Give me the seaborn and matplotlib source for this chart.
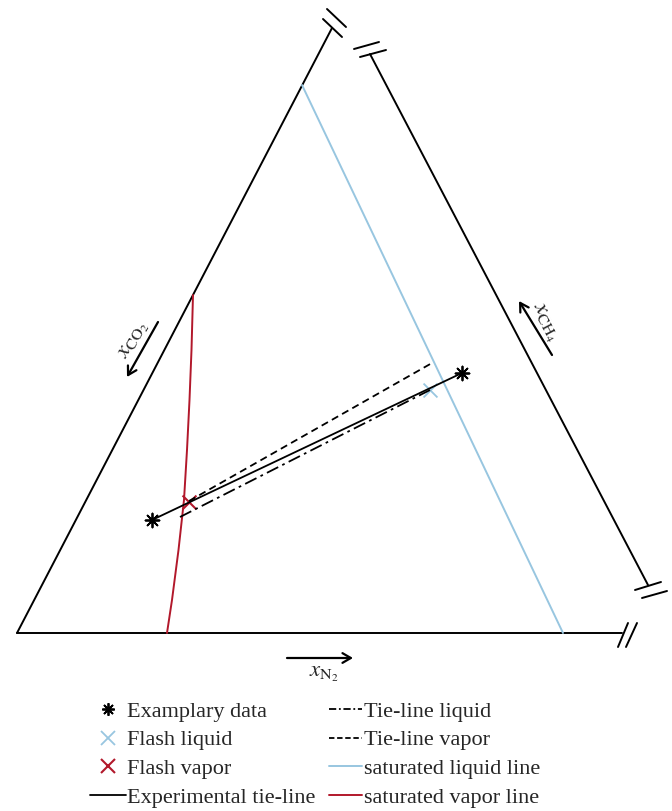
import numpy as np
import pandas as pd
import matplotlib
matplotlib.use("Agg")
import matplotlib.pyplot as plt
from matplotlib.lines import Line2D
import seaborn as sns

# ---- diagram geometry (drawing coordinates, y downward) ----
bottom_edge_x = [17, 622]
bottom_edge_y = [633, 633]
left_edge_x = [17, 332]
left_edge_y = [633, 28]
right_edge_x = [370, 648]
right_edge_y = [54, 585]

# break marks (pairs of short strokes)
break_left_top = [[(323, 19), (342, 37)], [(327, 9), (346, 27)]]
break_right_top = [[(354, 49), (379, 42)], [(360, 57), (386, 50)]]
break_right_bot = [[(635, 590), (661, 582)], [(642, 598), (667, 591)]]
break_bottom = [[(618, 647), (628, 623)], [(626, 647), (637, 623)]]

# ---- data series ----
sat_liquid_x = [302, 563]
sat_liquid_y = [85, 633]
sat_vapor_x = [193, 191.5, 189.5, 187, 184, 178.5, 172, 167]
sat_vapor_y = [295, 350, 400, 450, 500, 550, 600, 633]
exp_tie_x = [152, 462]
exp_tie_y = [520, 373]
tie_liquid_x = [180, 430]
tie_liquid_y = [517, 390]
tie_vapor_x = [189, 432]
tie_vapor_y = [501, 363]
flash_liquid = (430, 390)
flash_vapor = (189, 502)

c_blue = "#98c6e0"
c_red = "#b2182b"

sns.set_style("white")
plt.rcParams["font.family"] = ["Liberation Serif", "DejaVu Serif"]
plt.rcParams["mathtext.fontset"] = "stix"

fig = plt.figure(figsize=(6.72, 8.11), dpi=100)
ax = fig.add_axes([0, 0, 1, 1])
ax.set_xlim(0, 672)
ax.set_ylim(811, 0)
ax.axis("off")

def seg(xs, ys, **kw):
    df = pd.DataFrame({"x": xs, "y": ys})
    sns.lineplot(data=df, x="x", y="y", sort=False, estimator=None, ax=ax, **kw)

# triangle edges
for xs, ys in [(bottom_edge_x, bottom_edge_y), (left_edge_x, left_edge_y), (right_edge_x, right_edge_y)]:
    seg(xs, ys, color="black", lw=1.4)
for br in [break_left_top, break_right_top, break_right_bot, break_bottom]:
    for (p, q) in br:
        seg([p[0], q[0]], [p[1], q[1]], color="black", lw=1.4)

# saturation lines
seg(sat_liquid_x, sat_liquid_y, color=c_blue, lw=1.4)
seg(sat_vapor_x, sat_vapor_y, color=c_red, lw=1.4)

# tie lines
seg(exp_tie_x, exp_tie_y, color="black", lw=1.3)
seg(tie_vapor_x, tie_vapor_y, color="black", lw=1.3, linestyle=(0, (4, 2.5)))
seg(tie_liquid_x, tie_liquid_y, color="black", lw=1.3, linestyle=(0, (7, 2.5, 1.5, 2.5)))

star = (8, 2, 0)
sns.scatterplot(x=exp_tie_x, y=exp_tie_y, marker=star, s=100, color="black", linewidth=1.3, ax=ax)
sns.scatterplot(x=[flash_liquid[0]], y=[flash_liquid[1]], marker="x", s=100, color=c_blue, linewidth=1.3, ax=ax)
sns.scatterplot(x=[flash_vapor[0]], y=[flash_vapor[1]], marker="x", s=100, color=c_red, linewidth=1.5, ax=ax)

# axis arrows and labels
aprops = dict(arrowstyle="->,head_length=0.6,head_width=0.35", lw=1.6, color="black", shrinkA=0, shrinkB=0)
ax.annotate("", xy=(127, 377), xytext=(158, 322), arrowprops=aprops)
ax.annotate("", xy=(519, 301), xytext=(552, 355), arrowprops=aprops)
ax.annotate("", xy=(353, 658), xytext=(287, 658), arrowprops=aprops)
ax.text(134, 340, r"$x_{\mathrm{CO}_2}$", rotation=61, ha="center", va="center", fontsize=16.5)
ax.text(545, 322, r"$x_{\mathrm{CH}_4}$", rotation=-62, ha="center", va="center", fontsize=16.5)
ax.text(324, 673, r"$x_{\mathrm{N}_2}$", ha="center", va="center", fontsize=16.5)

# legend (two columns)
handles1 = [
    Line2D([], [], ls="none", marker=star, color="black", markersize=9, mew=1.3),
    Line2D([], [], ls="none", marker="x", color=c_blue, markersize=10, mew=1.3),
    Line2D([], [], ls="none", marker="x", color=c_red, markersize=10, mew=1.5),
    Line2D([], [], color="black", lw=1.3),
]
labels1 = ["Examplary data", "Flash liquid", "Flash vapor", "Experimental tie-line"]
handles2 = [
    Line2D([], [], color="black", lw=1.3, linestyle=(0, (4, 1.5, 1, 1.5))),
    Line2D([], [], color="black", lw=1.3, linestyle=(0, (3, 1.5))),
    Line2D([], [], color=c_blue, lw=1.4),
    Line2D([], [], color=c_red, lw=1.4),
]
labels2 = ["Tie-line liquid", "Tie-line vapor", "saturated liquid line", "saturated vapor line"]
common = dict(loc="upper left", frameon=False, fontsize=16, handletextpad=0.08,
              labelspacing=0.37, borderpad=0, borderaxespad=0)
leg1 = ax.legend(handles1, labels1, bbox_to_anchor=(90 / 672, 1 - 701 / 811),
                 handlelength=1.6, **common)
ax.add_artist(leg1)
ax.legend(handles2, labels2, bbox_to_anchor=(329 / 672, 1 - 701 / 811),
          handlelength=1.5, **common)

fig.savefig("out.png", dpi=100)
